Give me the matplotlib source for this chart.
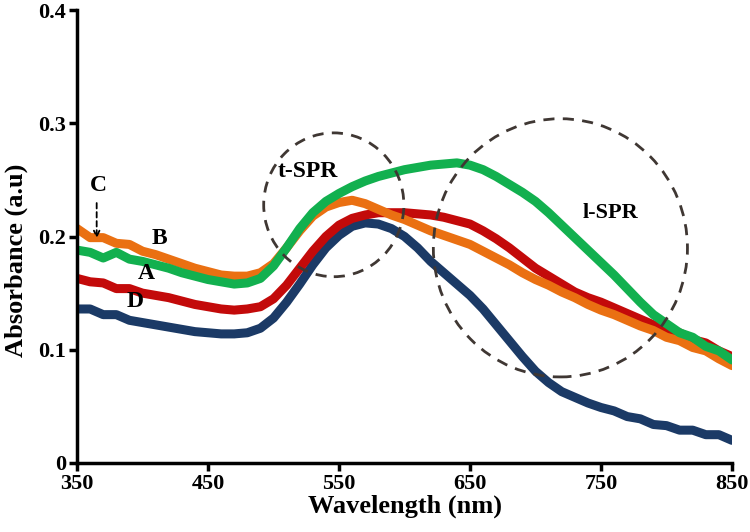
import numpy as np
import matplotlib
matplotlib.use("Agg")
import matplotlib.pyplot as plt
from matplotlib.patches import Ellipse

wavelength = np.arange(350, 851, 10)

# sample B (orange)
abs_B = [0.207, 0.199, 0.199, 0.194, 0.193, 0.187, 0.184, 0.180, 0.176, 0.172,
         0.169, 0.166, 0.165, 0.165, 0.168, 0.176, 0.190, 0.205, 0.218, 0.226,
         0.230, 0.232, 0.229, 0.224, 0.219, 0.215, 0.210, 0.205, 0.201, 0.197,
         0.193, 0.187, 0.181, 0.175, 0.168, 0.162, 0.157, 0.151, 0.146, 0.140,
         0.135, 0.131, 0.126, 0.121, 0.117, 0.111, 0.108, 0.102, 0.099, 0.092,
         0.086]
# sample C (green)
abs_C = [0.188, 0.186, 0.181, 0.186, 0.180, 0.178, 0.175, 0.172, 0.168, 0.165,
         0.162, 0.160, 0.158, 0.159, 0.163, 0.174, 0.190, 0.207, 0.221, 0.231,
         0.238, 0.244, 0.249, 0.253, 0.256, 0.259, 0.261, 0.263, 0.264, 0.265,
         0.263, 0.259, 0.253, 0.246, 0.239, 0.231, 0.221, 0.210, 0.199, 0.188,
         0.177, 0.166, 0.154, 0.142, 0.131, 0.123, 0.115, 0.111, 0.103, 0.099,
         0.091]
# sample A (red)
abs_A = [0.163, 0.160, 0.159, 0.154, 0.154, 0.150, 0.148, 0.146, 0.143, 0.140,
         0.138, 0.136, 0.135, 0.136, 0.138, 0.145, 0.157, 0.172, 0.187, 0.200,
         0.210, 0.216, 0.219, 0.221, 0.221, 0.221, 0.220, 0.219, 0.217, 0.214,
         0.211, 0.205, 0.198, 0.190, 0.181, 0.172, 0.165, 0.158, 0.151, 0.146,
         0.142, 0.137, 0.132, 0.127, 0.122, 0.118, 0.115, 0.109, 0.106, 0.099,
         0.094]
# sample D (blue)
abs_D = [0.136, 0.136, 0.131, 0.131, 0.126, 0.124, 0.122, 0.120, 0.118, 0.116,
         0.115, 0.114, 0.114, 0.115, 0.119, 0.128, 0.142, 0.158, 0.175, 0.190,
         0.201, 0.209, 0.212, 0.211, 0.207, 0.200, 0.190, 0.178, 0.168, 0.158,
         0.148, 0.136, 0.122, 0.108, 0.094, 0.081, 0.071, 0.063, 0.058, 0.053,
         0.049, 0.046, 0.041, 0.039, 0.034, 0.033, 0.029, 0.029, 0.025, 0.025,
         0.020]

plt.rcParams['font.family'] = ['Liberation Serif', 'DejaVu Serif']
plt.rcParams['font.weight'] = 'bold'

fig = plt.figure(figsize=(7.5, 5.32), dpi=100)
ax = fig.add_axes([0.1027, 0.1297, 0.8733, 0.8515])

lw = 6.5
ax.plot(wavelength, abs_D, color='#1b3a66', lw=lw, solid_capstyle='round', solid_joinstyle='round')
ax.plot(wavelength, abs_A, color='#c30a0a', lw=lw, solid_capstyle='round', solid_joinstyle='round')
ax.plot(wavelength, abs_B, color='#ea7012', lw=lw, solid_capstyle='round', solid_joinstyle='round')
ax.plot(wavelength, abs_C, color='#12b04f', lw=lw, solid_capstyle='round', solid_joinstyle='round')

# dashed circles marking the plasmon bands
circ_col = '#3f3733'
ax.add_patch(Ellipse((546, 0.228), 107, 0.127, fill=False, ls=(0, (4, 3)),
                     lw=2, color=circ_col, zorder=5))
ax.add_patch(Ellipse((719, 0.190), 194, 0.228, fill=False, ls=(0, (4, 3)),
                     lw=2, color=circ_col, zorder=5))

ax.text(526, 0.257, 't-SPR', fontsize=17, fontweight='bold', ha='center', va='center')
ax.text(757, 0.221, 'l-SPR', fontsize=16, fontweight='bold', ha='center', va='center')
ax.text(366, 0.245, 'C', fontsize=17, fontweight='bold', ha='center', va='center')
ax.text(413, 0.198, 'B', fontsize=17, fontweight='bold', ha='center', va='center')
ax.text(403, 0.167, 'A', fontsize=17, fontweight='bold', ha='center', va='center')
ax.text(394, 0.143, 'D', fontsize=17, fontweight='bold', ha='center', va='center')
ax.annotate('', xy=(365, 0.196), xytext=(365, 0.232),
            arrowprops=dict(arrowstyle='->', ls=(0, (3, 2)), lw=1.3, color='black'))

ax.set_xlim(350, 850)
ax.set_ylim(0, 0.4)
ax.set_xticks([350, 450, 550, 650, 750, 850])
ax.set_yticks([0, 0.1, 0.2, 0.3, 0.4])
ax.set_yticklabels(['0', '0.1', '0.2', '0.3', '0.4'])
ax.spines['top'].set_visible(False)
ax.spines['right'].set_visible(False)
ax.spines['left'].set_linewidth(2.5)
ax.spines['bottom'].set_linewidth(2.5)
ax.tick_params(axis='both', direction='out', length=6, width=2.5, labelsize=16, pad=2)
for lab in ax.get_xticklabels() + ax.get_yticklabels():
    lab.set_fontweight('bold')
ax.set_xlabel('Wavelength (nm)', fontsize=19, fontweight='bold', labelpad=0)
ax.set_ylabel('Absorbance (a.u)', fontsize=19, fontweight='bold')
ax.yaxis.set_label_coords(-0.075, 0.448)

fig.savefig('out.png', dpi=100)
